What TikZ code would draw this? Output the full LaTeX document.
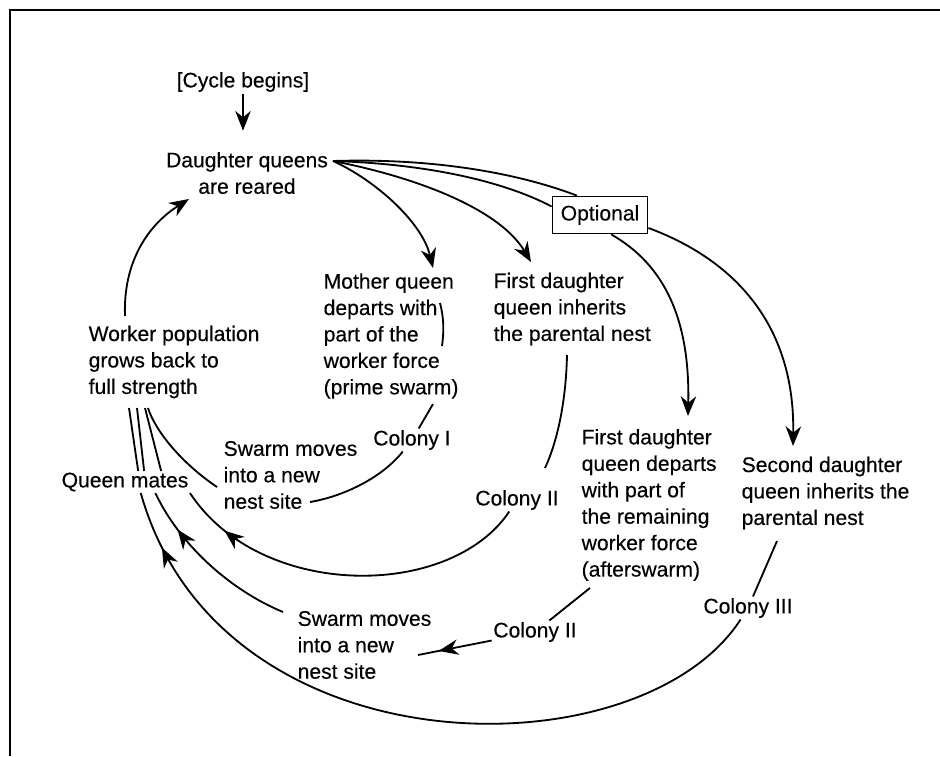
\documentclass[tikz,border=0pt]{standalone}
\usepackage{fontspec}
\setmainfont[FakeBold=0.3]{Liberation Sans}
\usetikzlibrary{arrows.meta, decorations.markings}

\begin{document}
\begin{tikzpicture}[
      x=0.025cm, y=-0.025cm,
      every node/.style={font=\fontsize{15}{18.8}\selectfont, inner sep=1pt},
      txt/.style={align=left, anchor=west},
      optbox/.style={draw, line width=1.3pt, minimum width=2.375cm, minimum height=0.925cm},
      link/.style={line width=1.3pt},
      arrow/.style={link, -{Stealth[length=14pt, width=11pt, inset=4.5pt]}},
      midarrow/.style={link, postaction=decorate, decoration={markings,
          mark=at position #1 with {\arrow{Stealth[length=14pt, width=11pt, inset=4.5pt]}}}}
    ]

    \useasboundingbox (0,0) rectangle (940,756);
    \draw[line width=1.8pt] (10,756) -- (10,10) -- (940,10);

    \node (cycle) at (243,82) {[Cycle begins]};
    \node (daughters) [align=center] at (247,173) {Daughter queens\\are reared};
    \node (optional) [optbox] at (600,215) {Optional};
    \node (mother) [txt] at (322,336) {Mother queen\\departs with\\part of the\\worker force\\(prime swarm)};
    \node (inherit1) [txt] at (492,309) {First daughter\\queen inherits\\the parental nest};
    \node (worker) [txt] at (87,362) {Worker population\\grows back to\\full strength};
    \node (mates) at (125,482) {Queen mates};
    \node (colony1) at (412,440) {Colony I};
    \node (swarm1) [txt] at (222,475) {Swarm moves\\into a new\\nest site};
    \node (colony2) at (517,500) {Colony II};
    \node (depart) [txt] at (580,505) {First daughter\\queen departs\\with part of\\the remaining\\worker force\\(afterswarm)};
    \node (inherit2) [txt] at (740,493) {Second daughter\\queen inherits the\\parental nest};
    \node (colony2b) at (535,632) {Colony II};
    \node (colony3) at (748,608) {Colony III};
    \node (swarm2) [txt] at (296,645) {Swarm moves\\into a new\\nest site};

    \coordinate (fan) at (333,161);
    \coordinate (wtop) at (125,316);
    \coordinate (dtip) at (189,199);
    \coordinate (mtip) at (433,268);
    \coordinate (itip) at (531,262);
    \coordinate (ptip) at (688,416);
    \coordinate (stip) at (793,446);
    \coordinate (mbar1) at (440,303);
    \coordinate (mbar2) at (442,346);
    \coordinate (mout) at (433,404);
    \coordinate (s1in) at (310,502);
    \coordinate (s1out) at (217,487);
    \coordinate (iout) at (567,355);
    \coordinate (iend) at (545,468);
    \coordinate (dout) at (590,588);
    \coordinate (s2in) at (418,655);
    \coordinate (s2out) at (283,612);
    \coordinate (sout) at (777,541);
    \coordinate (w1) at (129,408);
    \coordinate (w2) at (137,408);
    \coordinate (w3) at (145,408);
    \coordinate (w4) at (148,408);

    \draw[arrow, shorten >=14pt] (cycle) -- (cycle |- daughters.north);
    \draw[arrow] (wtop) .. controls (123,262) and (148,225) .. (dtip);
    \draw[arrow] (fan) .. controls (375,180) and (422,222) .. (mtip);
    \draw[arrow] (fan) .. controls (420,178) and (500,210) .. (itip);
    \draw[link] (fan) .. controls (430,158) and (515,172) .. (optional.140);
    \draw[link] (fan) .. controls (430,164) and (505,182) .. (optional.170);
    \draw[arrow] (optional.-60) .. controls (665,265) and (690,320) .. (ptip);
    \draw[arrow] (optional.-15) .. controls (740,262) and (795,330) .. (stip);

    \draw[link] (mbar1) .. controls (444,318) and (444,332) .. (mbar2);
    \draw[link] (mout) -- (colony1);
    \draw[link] (colony1) .. controls (380,480) and (340,497) .. (s1in);
    \draw[link] (s1out) .. controls (180,462) and (155,430) .. (w4);

    \draw[link] (iout) .. controls (566,400) and (558,440) .. (iend);
    \draw[midarrow=0.86] (colony2) .. controls (450,600) and (260,600) .. (mates.south east);

    \draw[link] (dout) -- (colony2b);
    \draw[midarrow=0.72] (colony2b) -- (s2in);
    \draw[midarrow=0.76] (s2out) .. controls (230,590) and (180,545) .. (mates.-20);

    \draw[link] (sout) -- (colony3);
    \draw[midarrow=0.92] (colony3) .. controls (640,775) and (220,775) .. (mates.-35);

    \draw[link] (mates.40) -- (w1);
    \draw[link] (mates.30) -- (w2);
    \draw[link] (mates.17) -- (w3);

\end{tikzpicture}
\end{document}
